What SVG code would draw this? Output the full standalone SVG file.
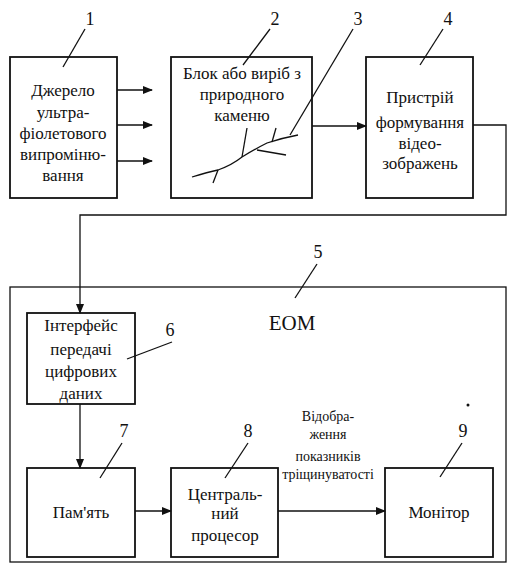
<svg xmlns="http://www.w3.org/2000/svg" width="507" height="576" viewBox="0 0 507 576">
<defs>
<marker id="ah" markerWidth="10" markerHeight="8" refX="9" refY="4" orient="auto" markerUnits="userSpaceOnUse">
<path d="M0,0 L10,4 L0,8 Z" fill="#111"/>
</marker>
<style>
.box{fill:#fff;stroke:#111;stroke-width:1.8}
.ln{fill:none;stroke:#111;stroke-width:1.3}
text{font-family:'Liberation Serif','DejaVu Serif',serif;fill:#111;text-anchor:middle}
.t{font-size:17px}
.s{font-size:14px}
.n{font-size:18px}
</style>
</defs>
<rect width="507" height="576" fill="#fff"/>

<g id="node5">
<rect x="10" y="287" width="496" height="275" fill="none" stroke="#111" stroke-width="1.3"/>
<text x="292" y="330" style="font-size:21px">ЕОМ</text>
<text class="n" x="318" y="258">5</text>
<line class="ln" x1="317" y1="264" x2="295" y2="298"/>
</g>

<g id="node1">
<rect class="box" x="10" y="57" width="107" height="141"/>
<text class="t" x="63" y="96">Джерело</text>
<text class="t" x="63" y="118">ультра-</text>
<text class="t" x="63" y="139">фіолетового</text>
<text class="t" x="63" y="160">випроміню-</text>
<text class="t" x="63" y="181">вання</text>
<text class="n" x="90" y="25">1</text>
<line class="ln" x1="85" y1="29" x2="63" y2="67"/>
</g>

<g id="node2">
<rect class="box" x="171" y="57" width="141" height="141"/>
<text class="t" x="242" y="79">Блок або виріб з</text>
<text class="t" x="242" y="100">природного</text>
<text class="t" x="242" y="121">каменю</text>
<text class="n" x="275" y="25">2</text>
<line class="ln" x1="270" y1="29" x2="243" y2="65"/>
</g>

<g id="node3">
<path class="ln" d="M192,177 Q208,172 218,170 Q232,165 242,157 Q255,149 267,143 Q282,138 298,135"/>
<line class="ln" x1="218" y1="170" x2="213" y2="183"/>
<line class="ln" x1="242" y1="157" x2="247" y2="128"/>
<line class="ln" x1="257" y1="150" x2="286" y2="155"/>
<line class="ln" x1="272" y1="142" x2="276" y2="128"/>
<text class="n" x="358" y="25">3</text>
<line class="ln" x1="353" y1="29" x2="290" y2="135"/>
</g>

<g id="node4">
<rect class="box" x="366" y="57" width="107" height="141"/>
<text class="t" x="420" y="103">Пристрій</text>
<text class="t" x="420" y="128">формування</text>
<text class="t" x="420" y="149">відео-</text>
<text class="t" x="420" y="169">зображень</text>
<text class="n" x="448" y="25">4</text>
<line class="ln" x1="443" y1="29" x2="420" y2="65"/>
</g>

<g id="node6">
<rect class="box" x="27" y="313" width="108" height="91"/>
<text class="t" x="81" y="331">Інтерфейс</text>
<text class="t" x="81" y="355">передачі</text>
<text class="t" x="81" y="377">цифрових</text>
<text class="t" x="81" y="399">даних</text>
<text class="n" x="170" y="336">6</text>
<line class="ln" x1="172" y1="342" x2="127" y2="359"/>
</g>

<g id="node7">
<rect class="box" x="27" y="468" width="108" height="89"/>
<text class="t" x="81" y="518">Пам'ять</text>
<text class="n" x="124" y="437">7</text>
<line class="ln" x1="122" y1="443" x2="100" y2="478"/>
</g>

<g id="node8">
<rect class="box" x="171" y="468" width="107" height="89"/>
<text class="t" x="225" y="500">Централь-</text>
<text class="t" x="225" y="519">ний</text>
<text class="t" x="225" y="541">процесор</text>
<text class="n" x="248" y="437">8</text>
<line class="ln" x1="248" y1="443" x2="225" y2="478"/>
</g>

<g id="node9">
<rect class="box" x="385" y="468" width="108" height="89"/>
<text class="t" x="439" y="518">Монітор</text>
<text class="n" x="463" y="437">9</text>
<line class="ln" x1="462" y1="443" x2="440" y2="477"/>
<circle cx="468" cy="405" r="1.5" fill="#111"/>
</g>

<g id="connectors">
<line class="ln" x1="117" y1="90" x2="152" y2="90" marker-end="url(#ah)"/>
<line class="ln" x1="117" y1="125" x2="152" y2="125" marker-end="url(#ah)"/>
<line class="ln" x1="117" y1="161" x2="152" y2="161" marker-end="url(#ah)"/>
<line class="ln" x1="312" y1="126" x2="366" y2="126" marker-end="url(#ah)"/>
<polyline class="ln" points="473,125 506,125 506,215 80,215 80,313" marker-end="url(#ah)"/>
<line class="ln" x1="80" y1="404" x2="80" y2="468" marker-end="url(#ah)"/>
<line class="ln" x1="135" y1="511" x2="171" y2="511" marker-end="url(#ah)"/>
<line class="ln" x1="278" y1="511" x2="385" y2="511" marker-end="url(#ah)"/>
<text class="s" x="328" y="421">Відобра-</text>
<text class="s" x="328" y="439">ження</text>
<text class="s" x="328" y="461">показників</text>
<text class="s" x="328" y="479">тріщинуватості</text>
</g>
</svg>
